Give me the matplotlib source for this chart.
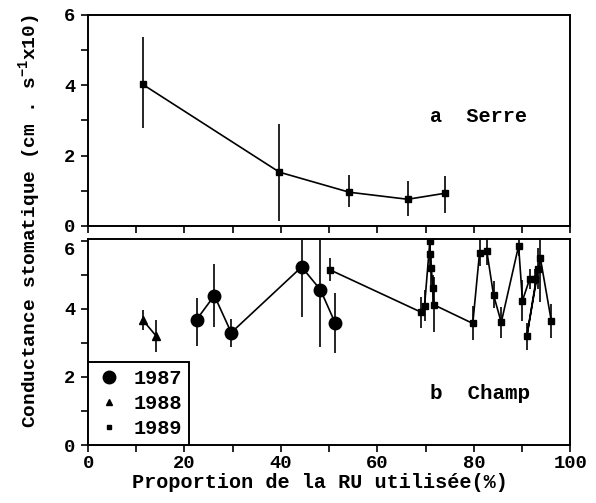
import matplotlib
matplotlib.use("Agg")
import matplotlib.pyplot as plt
import matplotlib.transforms as mtransforms
from matplotlib.ticker import MultipleLocator
from matplotlib.lines import Line2D

plt.rcParams['font.family'] = ['Liberation Mono', 'DejaVu Sans']
plt.rcParams['font.weight'] = 'bold'
plt.rcParams['mathtext.fontset'] = 'custom'
plt.rcParams['mathtext.rm'] = 'Liberation Mono:bold'
plt.rcParams['mathtext.bf'] = 'Liberation Mono:bold'
plt.rcParams['mathtext.it'] = 'Liberation Mono:bold'

# (a) Serre
serre_x = [11.3, 39.7, 54.2, 66.3, 74.0]
serre_y = [4.03, 1.53, 0.96, 0.76, 0.93]
serre_lo = [1.23, 1.38, 0.43, 0.48, 0.57]
serre_hi = [1.34, 1.37, 0.49, 0.52, 0.49]

# (b) Champ 1987
c87_x = [22.5, 26.2, 29.7, 44.3, 48.2, 51.3]
c87_y = [3.68, 4.39, 3.30, 5.23, 4.56, 3.57]
c87_lo = [0.76, 0.91, 0.41, 1.46, 1.69, 0.88]
c87_hi = [0.65, 0.93, 0.41, 1.3, 1.6, 0.90]

# (b) Champ 1988
c88_x = [11.3, 14.2]
c88_y = [3.68, 3.19]
c88_lo = [0.29, 0.47]
c88_hi = [0.30, 0.49]

# (b) Champ 1989 (chronological order)
c89_x = [50.1, 69.1, 69.8, 70.9, 70.9, 71.2, 71.5, 71.7, 79.8, 81.2, 82.7,
         84.1, 85.7, 89.3, 90.1, 91.6, 92.6, 93.3, 91.0, 93.8, 96.1]
c89_y = [5.15, 3.90, 4.09, 6.00, 5.61, 5.21, 4.60, 4.12, 3.57, 5.65, 5.70,
         4.41, 3.60, 5.85, 4.24, 4.88, 4.88, 5.18, 3.19, 5.50, 3.63]
c89_err = [0.33, 0.45, 0.45, 0.40, 0.50, 0.50, 0.40, 0.80, 0.50, 0.40, 0.40,
           0.40, 0.45, 0.30, 0.60, 0.30, 0.30, 0.60, 0.40, 1.30, 0.50]

legend_labels = ['1987', '1988', '1989']

fig = plt.figure(figsize=(5.96, 5.03), dpi=100)
ax1 = fig.add_axes([0.1477, 0.5507, 0.809, 0.4195])
ax2 = fig.add_axes([0.1477, 0.1153, 0.809, 0.4095])

lw = 1.2
for ax in (ax1, ax2):
    ax.set_xlim(0, 100)
    ax.xaxis.set_major_locator(MultipleLocator(20))
    ax.xaxis.set_minor_locator(MultipleLocator(10))
    ax.yaxis.set_major_locator(MultipleLocator(2))
    ax.yaxis.set_minor_locator(MultipleLocator(1))
    ax.tick_params(which='both', direction='out', length=5, width=1.2,
                   labelsize=13.5, top=False, right=False, pad=4)
    ax.tick_params(axis='x', pad=2)
    for s in ax.spines.values():
        s.set_linewidth(1.4)

ax1.set_ylim(0, 6)
ax1.set_yticks([0, 2, 4, 6])
ax1.tick_params(axis='x', which='both', labelbottom=False)
ax1.xaxis.set_major_locator(MultipleLocator(10))
ax2.set_ylim(0, 6.05)
ax2.set_yticks([0, 2, 4, 6])

ax1.errorbar(serre_x, serre_y, yerr=[serre_lo, serre_hi], color='black',
             lw=lw, elinewidth=lw, capsize=0, marker='s', ms=4)
ax1.text(71.0, 3.1, 'a  Serre', fontsize=14.5, fontweight='bold', va='center')

ax2.errorbar(c87_x, c87_y, yerr=[c87_lo, c87_hi], color='black',
             lw=lw, elinewidth=lw, capsize=0, marker='o', ms=9)
ax2.errorbar(c88_x, c88_y, yerr=[c88_lo, c88_hi], color='black',
             lw=lw, elinewidth=lw, capsize=0, marker='^', ms=6)
ax2.errorbar(c89_x, c89_y, yerr=c89_err, color='black',
             lw=lw, elinewidth=lw, capsize=0, marker='s', ms=4)
ax2.text(71.0, 1.52, 'b  Champ', fontsize=15, fontweight='bold', va='center')

handles = [Line2D([], [], color='black', marker='o', ms=9, ls='none'),
           Line2D([], [], color='black', marker='^', ms=5, ls='none'),
           Line2D([], [], color='black', marker='s', ms=3.5, ls='none')]
leg = ax2.legend(handles, legend_labels, loc='lower left', bbox_to_anchor=(0, 0),
                 borderaxespad=0, fancybox=False, edgecolor='black', framealpha=1,
                 fontsize=14.5, handlelength=1.4, handletextpad=0.5,
                 labelspacing=0.3, borderpad=0.35)
leg.get_frame().set_linewidth(1.4)

ax2.set_xlabel('Proportion de la RU utilisée(%)', fontsize=14.5, fontweight='bold')
ax2.xaxis.set_label_coords(0.481, -0.135)
fig.text(0.05, 0.56, r'Conductance stomatique (cm . s$^{-1}$x10)', rotation=90,
         fontsize=14, fontweight='bold', ha='center', va='center')

# bottom panel's "6" label sits slightly below its tick, as in the reference
fig.canvas.draw()
offset = mtransforms.ScaledTranslation(0, -8 / 100, fig.dpi_scale_trans)
for lab in ax2.get_yticklabels():
    if lab.get_text() == '6':
        lab.set_transform(lab.get_transform() + offset)

fig.savefig('out.png', dpi=100)
